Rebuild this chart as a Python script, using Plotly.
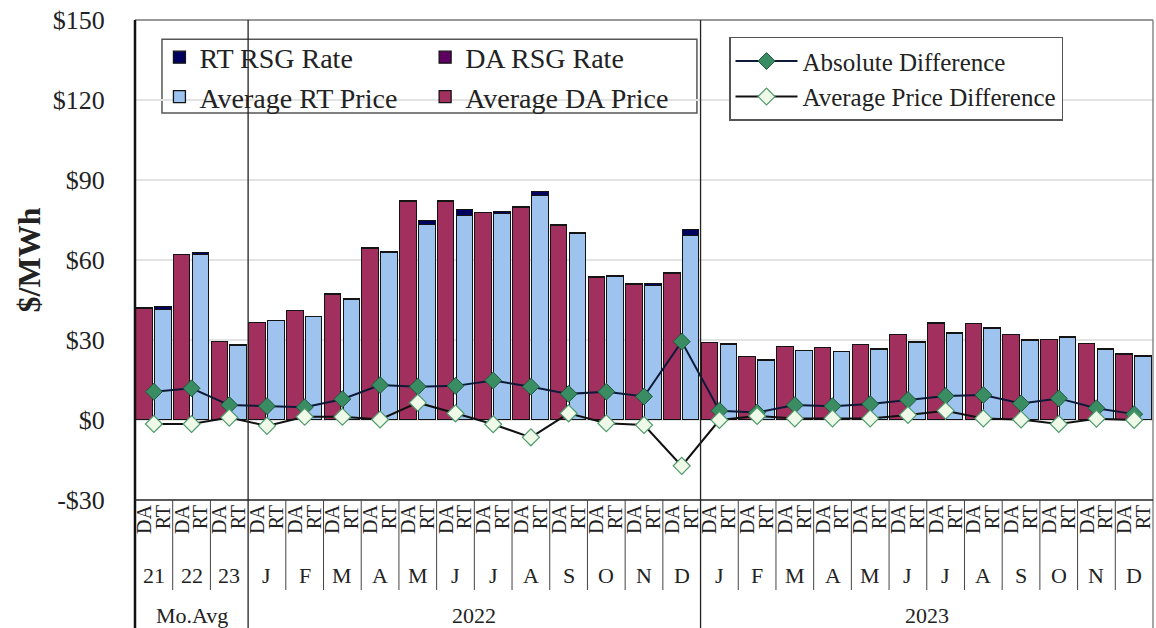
import plotly.graph_objects as go

# ---------------- data ----------------
groups = ["21", "22", "23",
          "J", "F", "M", "A", "M", "J", "J", "A", "S", "O", "N", "D",
          "J", "F", "M", "A", "M", "J", "J", "A", "S", "O", "N", "D"]
periods = [("Mo.Avg", 0, 3), ("2022", 3, 15), ("2023", 15, 27)]

da_total = [41.9, 61.9, 29.4,
            36.5, 41.0, 47.2, 64.4, 82.2, 82.2, 77.8, 79.8, 73.1, 53.5, 50.9, 55.0,
            29.0, 23.8, 27.5, 27.1, 28.1, 31.9, 36.2, 36.0, 31.9, 30.0, 28.5, 24.6]
da_rsg = [0.2, 0.2, 0.1,
          0.2, 0.2, 0.2, 0.3, 0.3, 0.4, 0.3, 0.3, 0.2, 0.2, 0.2, 0.3,
          0.1, 0.1, 0.1, 0.1, 0.1, 0.1, 0.1, 0.1, 0.1, 0.1, 0.1, 0.1]
rt_total = [42.3, 62.5, 28.1,
            37.3, 38.8, 45.2, 63.1, 74.6, 78.8, 78.1, 85.6, 70.0, 54.0, 51.1, 71.3,
            28.5, 22.5, 26.0, 25.6, 26.5, 29.2, 32.5, 34.4, 30.0, 31.2, 26.5, 24.0]
rt_rsg = [0.9, 0.6, 0.2,
          0.3, 0.2, 0.3, 0.5, 1.5, 2.2, 0.8, 1.6, 0.4, 0.4, 0.7, 2.4,
          0.2, 0.2, 0.2, 0.2, 0.2, 0.3, 0.3, 0.3, 0.2, 0.3, 0.2, 0.2]
abs_diff = [10.6, 11.9, 5.6,
            5.2, 4.8, 7.8, 13.1, 12.5, 12.8, 14.8, 12.5, 9.8, 10.6, 8.8, 29.4,
            3.5, 2.8, 5.6, 5.2, 6.0, 7.5, 9.0, 9.4, 6.2, 8.1, 4.4, 2.2]
avg_diff = [-1.5, -1.5, 0.9,
            -2.2, 1.2, 1.2, 0.2, 6.5, 2.5, -1.6, -6.5, 2.5, -1.2, -1.9, -17.2,
            0.0, 1.5, 0.6, 0.6, 0.6, 1.9, 3.5, 0.6, 0.2, -1.5, 0.5, 0.0]
y_ticks = [-30, 0, 30, 60, 90, 120, 150]
y_tick_text = ["-$30", "$0", "$30", "$60", "$90", "$120", "$150"]

# ---------------- derived ----------------
n = len(groups)
x_da = [2 * i for i in range(n)]
x_rt = [2 * i + 1 for i in range(n)]
x_mid = [2 * i + 0.5 for i in range(n)]
da_price = [t - r for t, r in zip(da_total, da_rsg)]
rt_price = [t - r for t, r in zip(rt_total, rt_rsg)]

FONT = "Liberation Serif"
C_DA = "#A2305F"
C_RT = "#9DC3EE"
C_RTRSG = "#00005E"
C_DARSG = "#5E0060"
OUTL = dict(color="#141414", width=1.3)
BW = 0.88
LEG_FONT = dict(family=FONT, size=28, color="#222")
LEG2_FONT = dict(family=FONT, size=25, color="#222")

fig = go.Figure()
fig.add_trace(go.Bar(x=x_da, y=da_price, width=BW, name="Average DA Price",
                     marker=dict(color=C_DA, line=OUTL), legend="legend3",
                     legendrank=2, legendgroup="dap"))
fig.add_trace(go.Bar(x=x_da, y=da_rsg, width=BW, name="DA RSG Rate",
                     marker=dict(color=C_DARSG, line=OUTL), legend="legend3",
                     legendrank=1, legendgroup="dar"))
fig.add_trace(go.Bar(x=x_rt, y=rt_price, width=BW, name="Average RT Price",
                     marker=dict(color=C_RT, line=OUTL), legend="legend",
                     legendrank=2, legendgroup="rtp"))
fig.add_trace(go.Bar(x=x_rt, y=rt_rsg, width=BW, name="RT RSG Rate",
                     marker=dict(color=C_RTRSG, line=OUTL), legend="legend",
                     legendrank=1, legendgroup="rtr"))
fig.add_trace(go.Scatter(x=x_mid, y=abs_diff, mode="lines+markers",
                         name="Absolute Difference", legend="legend2",
                         legendrank=1, legendgroup="abs",
                         line=dict(color="#0E1A38", width=2),
                         marker=dict(symbol="diamond", size=13, color="#3A8C62",
                                     line=dict(color="#1E5A3C", width=1))))
fig.add_trace(go.Scatter(x=x_mid, y=avg_diff, mode="lines+markers",
                         name="Average Price Difference", legend="legend2",
                         legendrank=2, legendgroup="avg",
                         line=dict(color="#111111", width=2),
                         marker=dict(symbol="diamond", size=13, color="#EEF9E8",
                                     line=dict(color="#4E9A6B", width=1.2))))

# ---------------- shapes (frame, separators, legend box) ----------------
shapes = []
shapes.append(dict(type="line", xref="paper", yref="paper", x0=0, x1=1, y0=1, y1=1,
                   line=dict(color="#777777", width=1.5)))
shapes.append(dict(type="line", xref="paper", yref="paper", x0=0, x1=0, y0=1, y1=-0.27,
                   line=dict(color="#111111", width=2.5)))
shapes.append(dict(type="line", xref="paper", yref="paper", x0=1, x1=1, y0=1, y1=-0.27,
                   line=dict(color="#888888", width=1.5)))
shapes.append(dict(type="line", xref="paper", yref="paper", x0=0, x1=1, y0=0, y1=0,
                   line=dict(color="#222222", width=1.5)))
period_starts = [p[1] for p in periods]
for i in range(1, n):
    xb = 2 * i - 0.5
    if i in period_starts:
        shapes.append(dict(type="line", xref="x", yref="paper", x0=xb, x1=xb,
                           y0=1, y1=-0.27, line=dict(color="#222222", width=1.3)))
    else:
        shapes.append(dict(type="line", xref="x", yref="paper", x0=xb, x1=xb,
                           y0=0, y1=-0.1875, line=dict(color="#444444", width=1)))
shapes.append(dict(type="rect", xref="paper", yref="paper",
                   x0=0.0265, x1=0.552, y0=0.806, y1=0.960,
                   line=dict(color="#555555", width=1.5), fillcolor="white",
                   layer="below"))

# ---------------- annotations (month / period labels) ----------------
annotations = []
for i, g in enumerate(groups):
    annotations.append(dict(x=x_mid[i], y=-0.158, xref="x", yref="paper", text=g,
                            showarrow=False, font=dict(family=FONT, size=22, color="#222"),
                            xanchor="center", yanchor="middle"))
for name, a, b in periods:
    annotations.append(dict(x=(2 * a + 2 * b - 1) / 2, y=-0.24, xref="x", yref="paper",
                            text=name, showarrow=False,
                            font=dict(family=FONT, size=22, color="#222"),
                            xanchor="center", yanchor="middle"))

tickvals = []
ticktext = []
for i in range(n):
    tickvals += [x_da[i], x_rt[i]]
    ticktext += ["DA", "RT"]

fig.update_layout(
    width=1156, height=628,
    margin=dict(l=135, r=3, t=20, b=128),
    paper_bgcolor="white", plot_bgcolor="white",
    barmode="stack", bargap=0,
    font=dict(family=FONT, color="#222222"),
    showlegend=True,
    shapes=shapes,
    annotations=annotations,
    xaxis=dict(range=[-0.5, 2 * n - 0.5], tickvals=tickvals, ticktext=ticktext,
               tickangle=-90, tickfont=dict(family=FONT, size=20, color="#222"),
               showgrid=False, zeroline=False, showline=False, ticks="",
               automargin=False),
    yaxis=dict(range=[-30, 150], tickvals=y_ticks, ticktext=y_tick_text,
               tickfont=dict(family=FONT, size=26, color="#222"),
               showgrid=True, gridcolor="#E3E3E3", gridwidth=1.5, zeroline=False,
               showline=False, ticks="outside", ticklen=24, tickcolor="rgba(0,0,0,0)",
               automargin=False,
               title=dict(text="<b>$/MWh</b>", font=dict(family=FONT, size=32, color="#222"),
                          standoff=2)),
    legend=dict(x=0.024, y=0.974, xanchor="left", yanchor="top",
                bgcolor="rgba(0,0,0,0)", borderwidth=0, font=LEG_FONT,
                tracegroupgap=0, itemwidth=30, traceorder="normal"),
    legend3=dict(x=0.285, y=0.974, xanchor="left", yanchor="top",
                 bgcolor="rgba(0,0,0,0)", borderwidth=0, font=LEG_FONT,
                 tracegroupgap=0, itemwidth=30, traceorder="normal"),
    legend2=dict(x=0.5835, y=0.965, xanchor="left", yanchor="top",
                 bgcolor="white", bordercolor="#555555", borderwidth=1.5,
                 font=LEG2_FONT, tracegroupgap=0, itemwidth=62, traceorder="normal"),
)

fig.write_html("out.html", config={"displayModeBar": False},
               post_script="document.body.style.margin='0';document.body.style.padding='0';")
